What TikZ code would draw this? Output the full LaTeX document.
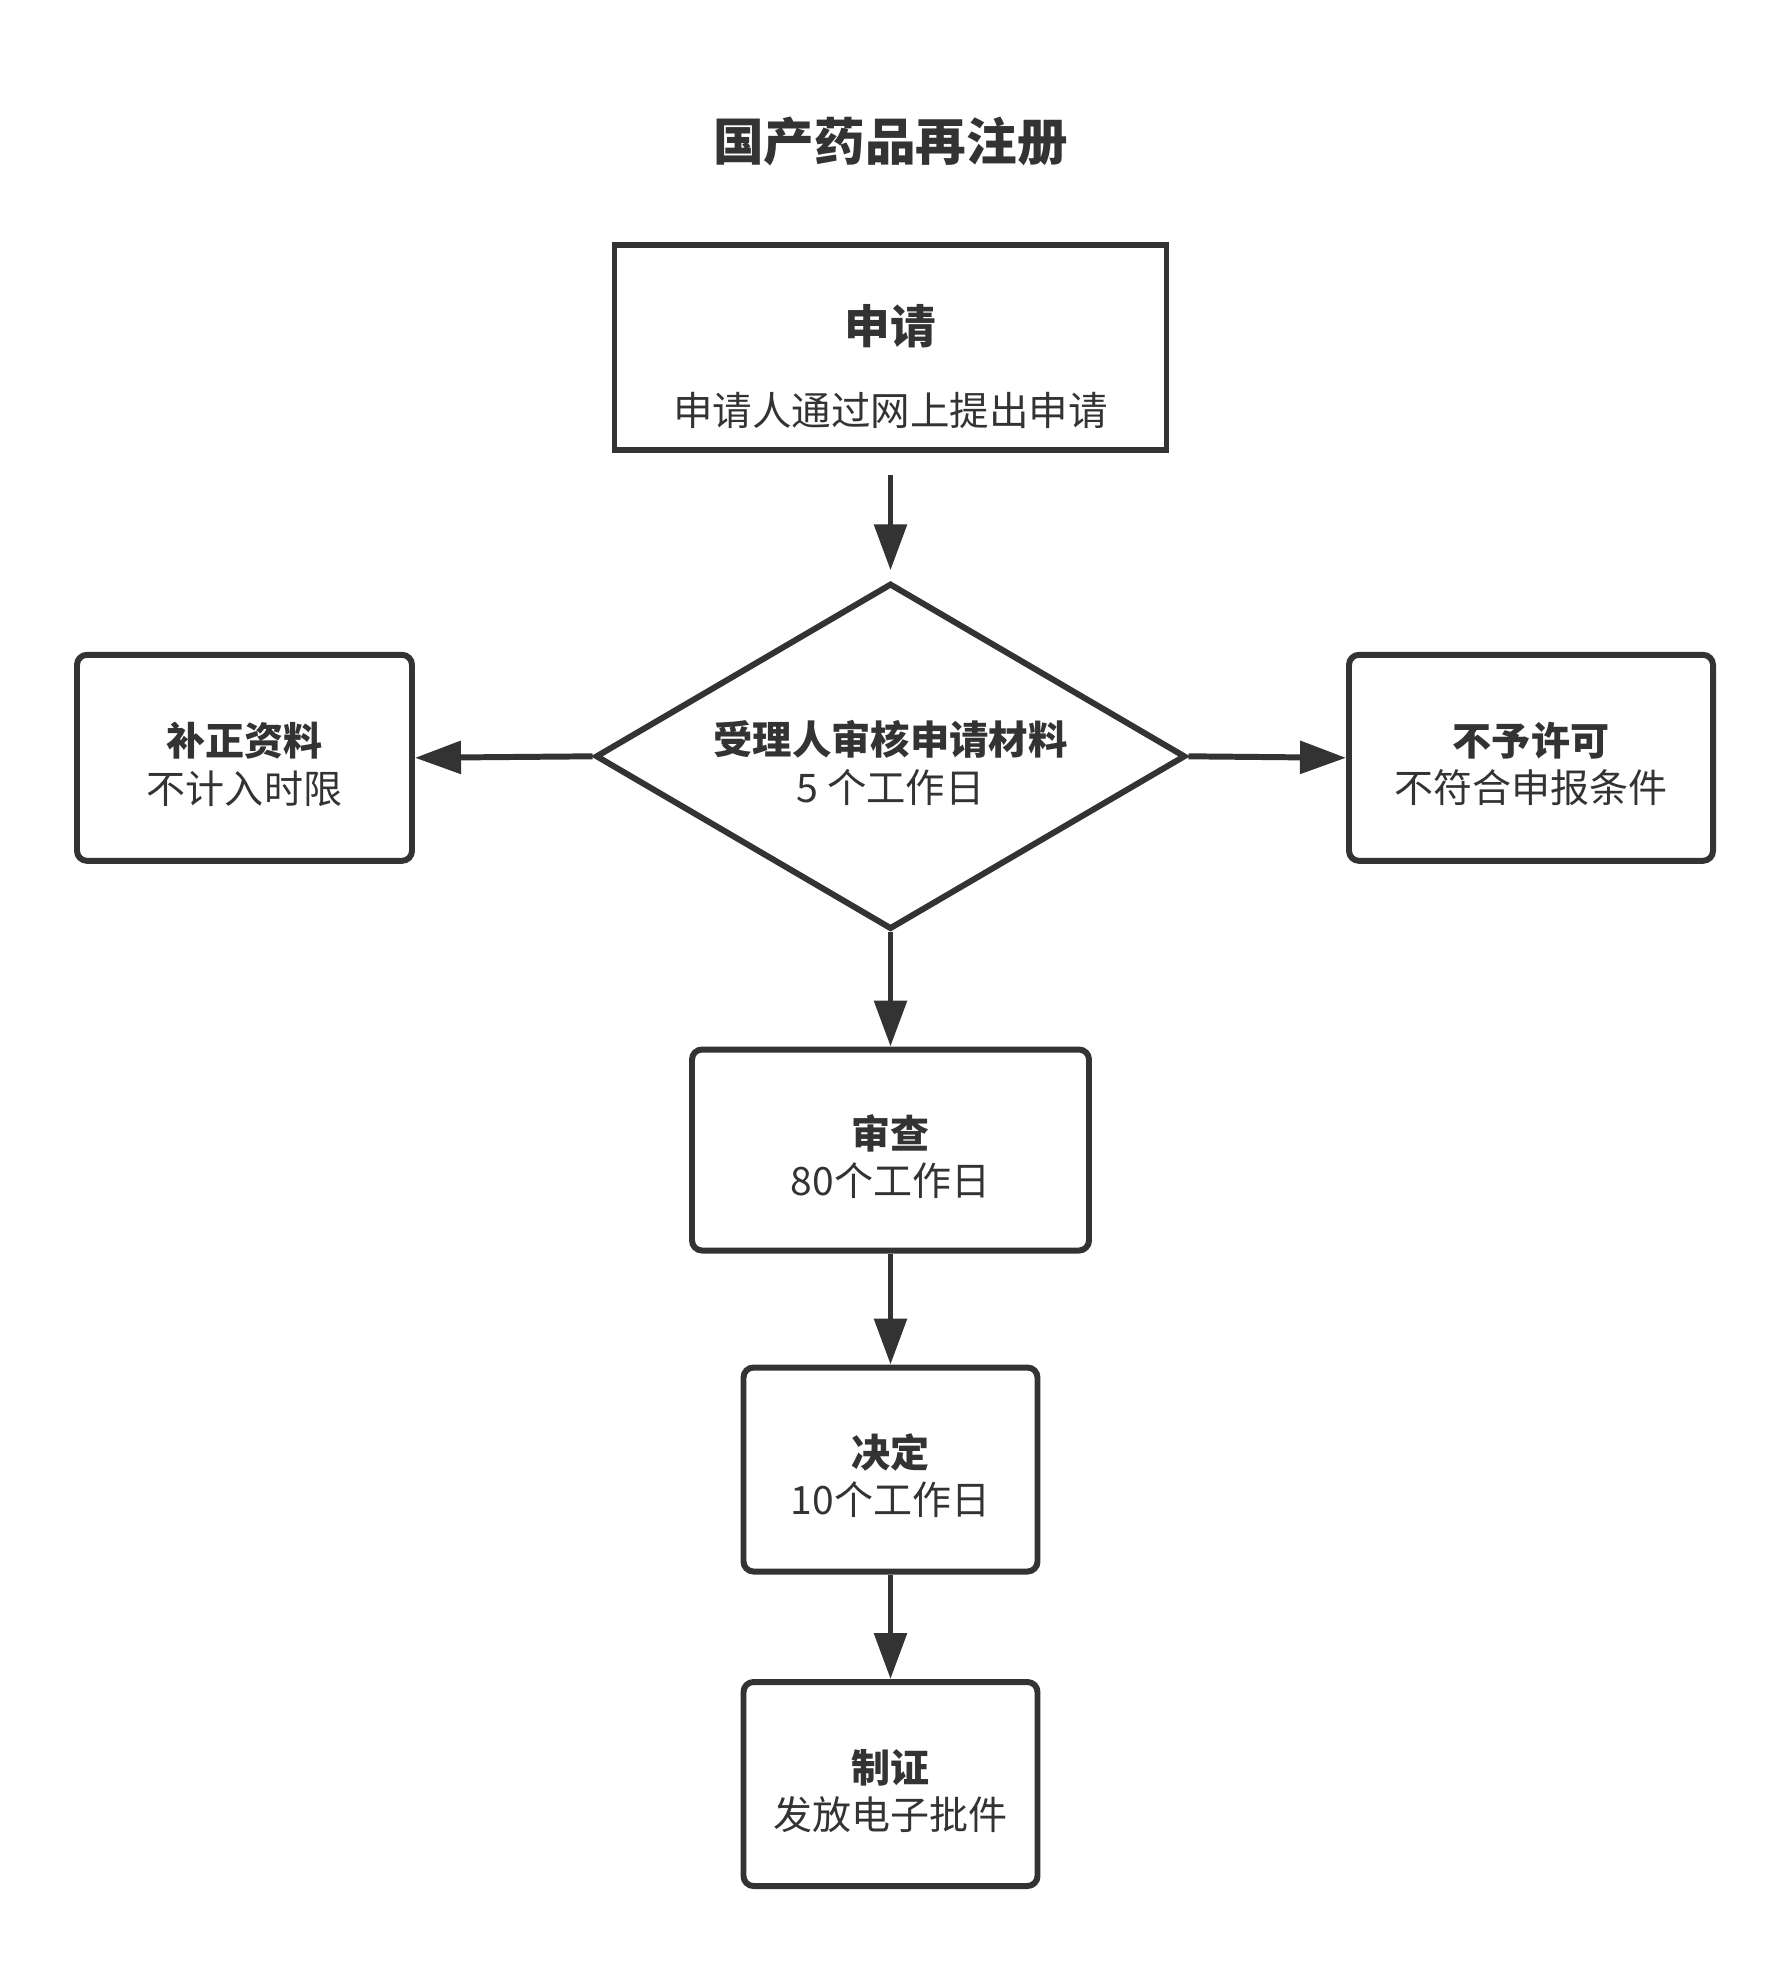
\documentclass[tikz,border=0pt]{standalone}
\usepackage{fontspec}
\setmainfont{Noto Sans CJK SC}
\usetikzlibrary{shapes.geometric,arrows.meta,positioning}
\definecolor{linecolor}{RGB}{51,51,51}

\newcommand{\boxfont}{\fontsize{11.1}{13.4}\selectfont}

\begin{document}
\begin{tikzpicture}[
    flowbox/.style={draw=linecolor, line width=1.7pt, inner sep=0pt, align=center, text=linecolor},
    roundbox/.style={flowbox, rounded corners=0.1cm, font=\boxfont, text height=26.6pt},
    decision/.style={flowbox, diamond, aspect=1.7, minimum width=5.9cm, minimum height=3.46cm},
    flow/.style={draw=linecolor, line width=1.7pt, -{Triangle[length=4.6mm, width=3.2mm]}}
]
    \useasboundingbox (0,0) rectangle (17.91,-19.65);

    % title
    \node[font=\fontsize{14.4}{17}\selectfont\bfseries, text=linecolor] (title) at (8.905,-1.416) {国产药品再注册};

    % application
    \node[flowbox, minimum width=5.52cm, minimum height=2.05cm] (apply) at (8.905,-3.472) {};
    \node[font=\fontsize{13}{15}\selectfont\bfseries, text=linecolor] (applyhead) at (8.905,-3.26) {申请};
    \node[font=\fontsize{11.25}{14}\selectfont, text=linecolor] (applytext) at (8.905,-4.10) {申请人通过网上提出申请};

    % acceptance check
    \node[decision, font=\fontsize{11.2}{13.6}\selectfont, text height=27.3pt] (review) at (8.905,-7.563)
        {\textbf{受理人审核申请材料}\\5 个工作日};

    \node[roundbox, minimum width=3.35cm, minimum height=2.06cm] (supplement) at (2.445,-7.578)
        {\textbf{补正资料}\\不计入时限};
    \node[roundbox, minimum width=3.64cm, minimum height=2.06cm] (refuse) at (15.31,-7.578)
        {\textbf{不予许可}\\不符合申报条件};

    % later steps
    \node[roundbox, minimum width=3.97cm, minimum height=2.01cm] (examine) at (8.905,-11.50)
        {\textbf{审查}\\80个工作日};
    \node[roundbox, minimum width=2.94cm, minimum height=2.04cm] (decide) at (8.905,-14.695)
        {\textbf{决定}\\10个工作日};
    \node[roundbox, minimum width=2.94cm, minimum height=2.04cm] (issue) at (8.905,-17.84)
        {\textbf{制证}\\发放电子批件};

    % connectors
    \draw[flow, shorten <=0.22cm, shorten >=0.1cm] (apply) -- (review);
    \draw[flow] (review.west) -- (supplement.east);
    \draw[flow] (review.east) -- (refuse.west);
    \draw[flow] (review.south) -- (examine.north);
    \draw[flow] (examine) -- (decide);
    \draw[flow] (decide) -- (issue);
\end{tikzpicture}
\end{document}
